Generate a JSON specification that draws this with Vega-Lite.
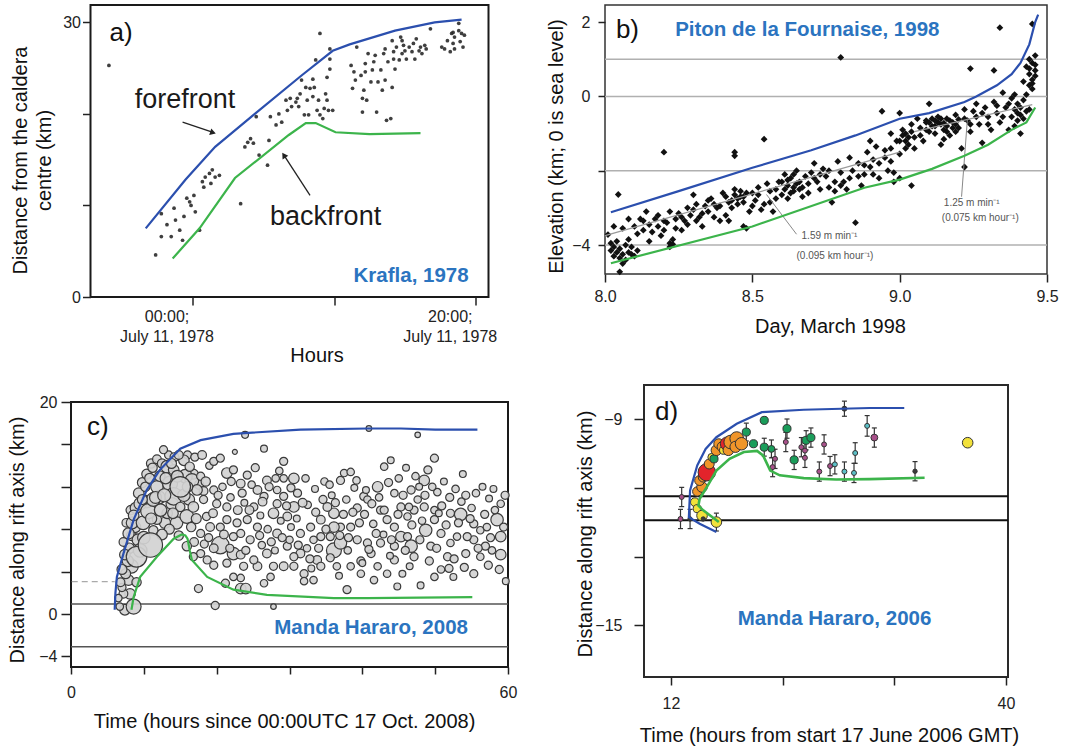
{
"$schema": "https://vega.github.io/schema/vega-lite/v6.json",
"background": "white",
"padding": {"left": 6, "top": 4, "right": 5, "bottom": 5},
"config": {
 "font": "Liberation Sans",
 "view": {"stroke": null},
 "axis": {"labelFont": "Liberation Sans", "titleFont": "Liberation Sans", "labelFontSize": 16, "titleFontSize": 20, "titleFontWeight": "normal", "labelColor": "#222", "titleColor": "#111", "tickColor": "#222", "tickWidth": 1.5, "domain": false, "grid": false, "labelFlush": false, "labelOverlap": false, "labelBound": false}
},
"datasets": {
 "aPts": [{"h":-2.6,"d":4.6},{"h":-2.2,"d":9.1},{"h":-2.2,"d":6.6},{"h":-1.8,"d":7.9},{"h":-1.5,"d":6.6},{"h":-1.3,"d":9.7},{"h":-1.2,"d":8.4},{"h":-0.9,"d":7.3},{"h":-0.7,"d":6.2},{"h":-0.6,"d":8.8},{"h":-0.4,"d":10.8},{"h":-0.2,"d":10.4},{"h":-0.1,"d":10.0},{"h":0.1,"d":11.1},{"h":0.2,"d":9.3},{"h":0.5,"d":7.3},{"h":0.7,"d":12.6},{"h":0.8,"d":12.0},{"h":0.9,"d":13.1},{"h":1.2,"d":13.5},{"h":1.3,"d":12.4},{"h":1.4,"d":13.9},{"h":1.6,"d":13.1},{"h":1.9,"d":13.3},{"h":3.4,"d":10.2},{"h":3.7,"d":16.4},{"h":3.9,"d":16.9},{"h":4.1,"d":17.3},{"h":4.3,"d":16.8},{"h":4.5,"d":19.7},{"h":4.7,"d":15.5},{"h":5.3,"d":14.4},{"h":5.4,"d":17.1},{"h":5.5,"d":19.7},{"h":5.9,"d":18.8},{"h":6.1,"d":20.0},{"h":6.3,"d":19.1},{"h":6.6,"d":21.5},{"h":6.7,"d":20.4},{"h":6.9,"d":21.7},{"h":7.0,"d":20.8},{"h":7.3,"d":21.3},{"h":7.4,"d":21.7},{"h":7.5,"d":20.8},{"h":7.6,"d":22.2},{"h":7.7,"d":23.7},{"h":7.9,"d":19.9},{"h":8.0,"d":22.9},{"h":8.1,"d":21.5},{"h":8.2,"d":19.9},{"h":8.3,"d":22.8},{"h":8.5,"d":21.9},{"h":8.6,"d":22.9},{"h":8.7,"d":25.9},{"h":8.8,"d":20.4},{"h":8.9,"d":21.5},{"h":9.0,"d":28.8},{"h":9.0,"d":19.9},{"h":9.2,"d":19.5},{"h":9.3,"d":20.6},{"h":9.4,"d":22.2},{"h":9.5,"d":21.5},{"h":9.6,"d":20.4},{"h":9.7,"d":24.9},{"h":9.7,"d":27.1},{"h":9.9,"d":20.4},{"h":9.7,"d":26.0},{"h":11.2,"d":25.3},{"h":11.3,"d":22.8},{"h":11.4,"d":24.6},{"h":11.5,"d":23.7},{"h":11.6,"d":27.3},{"h":11.9,"d":24.2},{"h":12.0,"d":20.2},{"h":12.1,"d":22.6},{"h":12.2,"d":25.5},{"h":12.3,"d":21.5},{"h":12.4,"d":26.6},{"h":12.6,"d":23.5},{"h":12.7,"d":24.8},{"h":12.8,"d":25.7},{"h":12.9,"d":26.4},{"h":13.0,"d":20.2},{"h":13.1,"d":23.5},{"h":13.3,"d":24.8},{"h":13.4,"d":22.6},{"h":13.5,"d":26.6},{"h":13.6,"d":27.1},{"h":13.7,"d":19.3},{"h":13.8,"d":25.7},{"h":14.0,"d":19.5},{"h":14.1,"d":22.9},{"h":14.1,"d":28.0},{"h":14.2,"d":26.8},{"h":14.3,"d":24.9},{"h":14.4,"d":27.3},{"h":14.6,"d":25.9},{"h":14.7,"d":28.4},{"h":14.8,"d":26.6},{"h":14.9,"d":27.5},{"h":15.0,"d":26.9},{"h":15.1,"d":26.0},{"h":15.3,"d":27.3},{"h":15.5,"d":26.8},{"h":15.6,"d":27.7},{"h":15.7,"d":26.0},{"h":15.8,"d":28.2},{"h":16.0,"d":26.9},{"h":16.1,"d":27.3},{"h":16.2,"d":26.6},{"h":16.4,"d":27.5},{"h":16.5,"d":27.1},{"h":16.8,"d":29.3},{"h":17.6,"d":27.3},{"h":17.8,"d":27.1},{"h":18.0,"d":28.0},{"h":18.2,"d":26.8},{"h":18.3,"d":28.8},{"h":18.4,"d":27.7},{"h":18.5,"d":28.4},{"h":18.5,"d":27.1},{"h":18.8,"d":29.1},{"h":18.9,"d":27.9},{"h":19.0,"d":28.8},{"h":19.1,"d":27.3},{"h":19.2,"d":28.6},{"h":18.8,"d":29.9},{"h":18.4,"d":28.9},{"h":14.2,"d":26.0},{"h":14.8,"d":28.0},{"h":12.2,"d":24.6},{"h":13.6,"d":23.7},{"h":12.0,"d":21.7},{"h":-5.9,"d":25.3},{"h":9.5,"d":24.0},{"h":8.5,"d":23.8}],
 "aFore": [{"h":-3.3,"d":7.5},{"h":-0.5,"d":12.8},{"h":1.6,"d":16.4},{"h":4.4,"d":20.0},{"h":7.7,"d":24.2},{"h":9.9,"d":26.9},{"h":11.1,"d":27.6},{"h":14.3,"d":29.1},{"h":17.1,"d":30.0},{"h":19.0,"d":30.3}],
 "aBack": [{"h":-1.4,"d":4.2},{"h":0.5,"d":7.5},{"h":3.0,"d":13.0},{"h":6.8,"d":17.7},{"h":8.0,"d":19.0},{"h":8.7,"d":19.0},{"h":10.1,"d":18.0},{"h":12.5,"d":17.8},{"h":16.1,"d":17.9}],
 "aArrow": [{"g":1,"h":-0.7,"d":19.1},{"g":1,"h":1.4,"d":18.0},{"g":2,"h":8.3,"d":11.1},{"g":2,"h":6.5,"d":15.4}],
 "bPts": [{"t":8.01,"e":-3.72},{"t":8.02,"e":-3.95},{"t":8.02,"e":-4.15},{"t":8.03,"e":-4.05},{"t":8.03,"e":-4.3},{"t":8.04,"e":-4.2},{"t":8.04,"e":-3.9},{"t":8.05,"e":-4.35},{"t":8.05,"e":-4.1},{"t":8.06,"e":-4.25},{"t":8.06,"e":-3.55},{"t":8.07,"e":-4.0},{"t":8.07,"e":-4.4},{"t":8.08,"e":-4.2},{"t":8.08,"e":-3.3},{"t":8.09,"e":-4.25},{"t":8.05,"e":-4.72},{"t":8.06,"e":-4.5},{"t":8.03,"e":-3.5},{"t":8.045,"e":-2.64},{"t":8.1,"e":-3.5},{"t":8.12,"e":-3.3},{"t":8.11,"e":-3.7},{"t":8.13,"e":-3.35},{"t":8.14,"e":-3.1},{"t":8.15,"e":-3.45},{"t":8.16,"e":-3.65},{"t":8.17,"e":-3.3},{"t":8.18,"e":-3.5},{"t":8.19,"e":-3.75},{"t":8.2,"e":-3.35},{"t":8.21,"e":-3.4},{"t":8.22,"e":-3.95},{"t":8.23,"e":-3.85},{"t":8.22,"e":-3.1},{"t":8.24,"e":-3.3},{"t":8.25,"e":-3.15},{"t":8.26,"e":-3.6},{"t":8.27,"e":-3.35},{"t":8.28,"e":-3.0},{"t":8.29,"e":-3.2},{"t":8.3,"e":-3.05},{"t":8.31,"e":-2.9},{"t":8.3,"e":-2.65},{"t":8.32,"e":-3.25},{"t":8.33,"e":-3.5},{"t":8.34,"e":-2.95},{"t":8.35,"e":-3.1},{"t":8.36,"e":-2.75},{"t":8.37,"e":-2.9},{"t":8.38,"e":-3.0},{"t":8.39,"e":-3.35},{"t":8.4,"e":-2.6},{"t":8.41,"e":-3.2},{"t":8.42,"e":-2.85},{"t":8.43,"e":-3.0},{"t":8.44,"e":-2.5},{"t":8.45,"e":-2.75},{"t":8.46,"e":-2.55},{"t":8.47,"e":-2.7},{"t":8.48,"e":-2.6},{"t":8.49,"e":-3.1},{"t":8.47,"e":-3.5},{"t":8.48,"e":-3.55},{"t":8.44,"e":-1.5},{"t":8.44,"e":-1.6},{"t":8.2,"e":-1.5},{"t":8.54,"e":-1.15},{"t":8.5,"e":-2.6},{"t":8.51,"e":-2.8},{"t":8.52,"e":-2.45},{"t":8.53,"e":-3.05},{"t":8.55,"e":-2.35},{"t":8.56,"e":-2.85},{"t":8.57,"e":-3.1},{"t":8.58,"e":-2.5},{"t":8.59,"e":-2.3},{"t":8.6,"e":-2.65},{"t":8.61,"e":-2.1},{"t":8.62,"e":-2.4},{"t":8.63,"e":-2.6},{"t":8.63,"e":-2.2},{"t":8.64,"e":-2.45},{"t":8.65,"e":-2.0},{"t":8.66,"e":-2.3},{"t":8.67,"e":-2.7},{"t":8.68,"e":-2.15},{"t":8.69,"e":-2.35},{"t":8.7,"e":-2.05},{"t":8.71,"e":-1.8},{"t":8.72,"e":-2.3},{"t":8.73,"e":-2.5},{"t":8.74,"e":-1.95},{"t":8.75,"e":-2.15},{"t":8.76,"e":-2.45},{"t":8.77,"e":-2.85},{"t":8.78,"e":-2.55},{"t":8.79,"e":-1.75},{"t":8.8,"e":-2.05},{"t":8.8,"e":1.05},{"t":8.81,"e":-2.3},{"t":8.82,"e":-2.5},{"t":8.83,"e":-1.65},{"t":8.84,"e":-2.0},{"t":8.85,"e":-3.4},{"t":8.86,"e":-2.15},{"t":8.87,"e":-2.4},{"t":8.88,"e":-1.85},{"t":8.89,"e":-1.5},{"t":8.9,"e":-1.9},{"t":8.91,"e":-2.1},{"t":8.92,"e":-1.35},{"t":8.93,"e":-1.8},{"t":8.94,"e":-0.4},{"t":8.95,"e":-1.65},{"t":8.96,"e":-2.0},{"t":8.97,"e":-1.4},{"t":8.98,"e":-2.3},{"t":8.99,"e":-1.2},{"t":9.0,"e":-1.55},{"t":9.0,"e":-0.45},{"t":9.01,"e":-0.9},{"t":9.02,"e":-1.0},{"t":9.03,"e":-1.3},{"t":9.04,"e":-0.75},{"t":9.05,"e":-1.1},{"t":9.06,"e":-0.6},{"t":9.07,"e":-0.85},{"t":9.08,"e":-1.2},{"t":9.09,"e":-0.7},{"t":9.1,"e":-0.95},{"t":9.11,"e":-0.6},{"t":9.12,"e":-0.8},{"t":9.12,"e":-1.0},{"t":9.13,"e":-0.55},{"t":9.14,"e":-0.75},{"t":9.15,"e":-0.9},{"t":9.16,"e":-0.6},{"t":9.17,"e":-1.05},{"t":9.18,"e":-0.7},{"t":9.19,"e":-0.5},{"t":9.2,"e":-0.85},{"t":9.21,"e":-1.4},{"t":9.22,"e":-0.35},{"t":9.23,"e":-0.65},{"t":9.24,"e":0.75},{"t":9.24,"e":-0.95},{"t":9.25,"e":-0.4},{"t":9.26,"e":-0.2},{"t":9.27,"e":-0.75},{"t":9.28,"e":-1.25},{"t":9.29,"e":-0.3},{"t":9.3,"e":-0.55},{"t":9.31,"e":-0.9},{"t":9.32,"e":0.7},{"t":9.32,"e":-0.15},{"t":9.33,"e":-0.45},{"t":9.34,"e":1.85},{"t":9.34,"e":-0.7},{"t":9.35,"e":0.1},{"t":9.36,"e":-0.3},{"t":9.37,"e":-0.9},{"t":9.38,"e":-0.05},{"t":9.38,"e":-0.55},{"t":9.39,"e":0.05},{"t":9.4,"e":-0.2},{"t":9.4,"e":-0.65},{"t":9.41,"e":-1.0},{"t":9.42,"e":-0.1},{"t":9.42,"e":0.4},{"t":9.43,"e":0.8},{"t":9.43,"e":0.05},{"t":9.44,"e":1.0},{"t":9.44,"e":0.6},{"t":9.44,"e":0.3},{"t":9.45,"e":0.9},{"t":9.45,"e":0.2},{"t":9.45,"e":1.95},{"t":9.46,"e":0.7},{"t":9.46,"e":0.55},{"t":9.46,"e":1.1},{"t":9.44,"e":-0.35},{"t":9.41,"e":-0.5},{"t":8.22,"e":-4.05},{"t":8.23,"e":-3.98},{"t":9.22,"e":-1.9},{"t":8.98,"e":-2.05},{"t":9.0,"e":-2.2},{"t":9.04,"e":-2.4},{"t":8.97,"e":-1.0},{"t":8.9,"e":-1.2},{"t":9.1,"e":-0.2},{"t":9.09,"e":-0.65},{"t":9.1,"e":-0.7},{"t":9.11,"e":-0.8},{"t":9.13,"e":-0.7},{"t":9.14,"e":-0.6},{"t":9.15,"e":-0.72},{"t":9.16,"e":-0.8},{"t":9.17,"e":-0.65},{"t":9.18,"e":-0.85},{"t":9.19,"e":-0.75},{"t":9.15,"e":-1.15},{"t":9.14,"e":-1.3},{"t":9.2,"e":-0.62},{"t":9.0,"e":-1.2},{"t":9.01,"e":-1.05},{"t":9.02,"e":-1.4},{"t":9.03,"e":-1.1},{"t":9.04,"e":-0.95},{"t":8.61,"e":-2.5},{"t":8.62,"e":-2.25},{"t":8.64,"e":-2.55},{"t":8.65,"e":-2.35},{"t":8.66,"e":-2.5},{"t":8.6,"e":-2.3},{"t":8.43,"e":-2.8},{"t":8.45,"e":-2.9},{"t":8.46,"e":-2.7},{"t":8.44,"e":-2.65},{"t":8.47,"e":-2.85},{"t":9.39,"e":-0.35},{"t":9.4,"e":-0.45},{"t":9.41,"e":-0.3},{"t":9.42,"e":-0.6},{"t":9.43,"e":-0.4},{"t":9.39,"e":-0.8},{"t":8.08,"e":-3.85},{"t":8.09,"e":-4.05},{"t":8.1,"e":-4.3},{"t":8.11,"e":-4.15},{"t":8.13,"e":-3.6},{"t":8.15,"e":-3.9},{"t":8.18,"e":-3.2},{"t":8.2,"e":-3.6},{"t":8.24,"e":-3.55},{"t":8.26,"e":-3.25},{"t":8.28,"e":-3.45},{"t":8.31,"e":-3.35},{"t":8.33,"e":-3.15},{"t":8.35,"e":-2.8},{"t":8.37,"e":-3.25},{"t":8.39,"e":-2.95},{"t":8.41,"e":-2.7},{"t":8.42,"e":-3.35},{"t":8.5,"e":-2.95},{"t":8.52,"e":-2.65},{"t":8.54,"e":-2.9},{"t":8.56,"e":-2.55},{"t":8.58,"e":-2.75},{"t":8.62,"e":-2.75},{"t":8.64,"e":-2.1},{"t":8.67,"e":-2.45},{"t":8.69,"e":-2.6},{"t":8.71,"e":-2.2},{"t":8.73,"e":-2.1},{"t":8.76,"e":-2.0},{"t":8.78,"e":-2.3},{"t":8.8,"e":-2.4},{"t":8.83,"e":-2.2},{"t":8.86,"e":-1.8},{"t":8.88,"e":-2.1},{"t":8.91,"e":-1.7},{"t":8.93,"e":-2.2},{"t":8.95,"e":-1.45},{"t":8.97,"e":-1.75},{"t":9.02,"e":-1.2},{"t":9.05,"e":-1.4},{"t":9.07,"e":-1.05},{"t":9.09,"e":-0.9},{"t":9.12,"e":-0.65},{"t":9.16,"e":-0.95},{"t":9.19,"e":-0.95},{"t":9.22,"e":-0.6},{"t":9.24,"e":-0.75},{"t":9.26,"e":-0.55},{"t":9.28,"e":-0.45},{"t":9.3,"e":-0.75},{"t":9.33,"e":-0.25},{"t":9.35,"e":-0.55},{"t":9.37,"e":-0.2},{"t":9.45,"e":0.45},{"t":9.46,"e":0.85},{"t":9.44,"e":0.75},{"t":9.45,"e":0.35}],
 "bUp": [{"t":8.02,"e":-3.12},{"t":8.25,"e":-2.55},{"t":8.5,"e":-1.92},{"t":8.7,"e":-1.45},{"t":8.85,"e":-1.05},{"t":9.0,"e":-0.6},{"t":9.1,"e":-0.45},{"t":9.22,"e":-0.15},{"t":9.26,"e":0.0},{"t":9.33,"e":0.3},{"t":9.38,"e":0.6},{"t":9.41,"e":0.9},{"t":9.44,"e":1.4},{"t":9.46,"e":2.0},{"t":9.47,"e":2.2}],
 "bLow": [{"t":8.02,"e":-4.49},{"t":8.5,"e":-3.5},{"t":8.88,"e":-2.46},{"t":9.0,"e":-2.24},{"t":9.11,"e":-1.95},{"t":9.22,"e":-1.6},{"t":9.3,"e":-1.3},{"t":9.38,"e":-0.9},{"t":9.43,"e":-0.7},{"t":9.46,"e":-0.3}],
 "bFit": [{"g":1,"t":8.0,"e":-3.75},{"g":1,"t":9.0,"e":-1.5},{"g":2,"t":9.05,"e":-0.95},{"g":2,"t":9.45,"e":-0.22}],
 "bLead": [{"g":1,"t":8.65,"e":-3.71},{"g":1,"t":8.548,"e":-2.64},{"g":2,"t":9.21,"e":-2.7},{"g":2,"t":9.23,"e":-0.6}],
 "cPts": [{"h":8.3,"d":4.5,"m":2.2},{"h":7.9,"d":3.2,"m":1.7},{"h":7.4,"d":0.4,"m":1.7},{"h":6.7,"d":0.7,"m":1.2},{"h":8.1,"d":1.9,"m":1.7},{"h":7.2,"d":1.9,"m":1.4},{"h":7.0,"d":2.5,"m":1.3},{"h":7.5,"d":3.8,"m":1.6},{"h":7.8,"d":5.0,"m":1.8},{"h":8.0,"d":6.2,"m":1.7},{"h":8.3,"d":7.4,"m":1.6},{"h":8.8,"d":8.2,"m":1.8},{"h":9.2,"d":7.0,"m":1.9},{"h":7.2,"d":6.8,"m":1.4},{"h":7.6,"d":8.6,"m":1.4},{"h":8.2,"d":9.8,"m":1.5},{"h":6.5,"d":1.5,"m":1.2},{"h":6.8,"d":3.0,"m":1.4},{"h":7.0,"d":4.2,"m":1.6},{"h":7.4,"d":5.6,"m":1.7},{"h":7.9,"d":7.6,"m":1.8},{"h":8.4,"d":8.6,"m":1.9},{"h":8.9,"d":10.0,"m":1.8},{"h":9.3,"d":11.4,"m":1.7},{"h":9.8,"d":12.4,"m":1.6},{"h":10.4,"d":13.2,"m":1.6},{"h":11.0,"d":14.2,"m":1.5},{"h":11.8,"d":14.6,"m":1.4},{"h":12.5,"d":14.2,"m":1.5},{"h":13.4,"d":15.0,"m":1.3},{"h":14.2,"d":14.8,"m":1.4},{"h":16.0,"d":15.0,"m":1.3},{"h":16.8,"d":13.2,"m":1.6},{"h":17.6,"d":12.2,"m":1.5},{"h":18.2,"d":11.6,"m":1.4},{"h":12.0,"d":11.0,"m":2.2},{"h":10.4,"d":10.6,"m":2.0},{"h":13.9,"d":10.4,"m":2.0},{"h":16.2,"d":10.8,"m":1.8},{"h":12.9,"d":8.6,"m":1.8},{"h":14.8,"d":7.4,"m":1.5},{"h":16.9,"d":6.8,"m":1.4},{"h":18.3,"d":6.6,"m":1.3},{"h":18.9,"d":7.2,"m":1.3},{"h":8.6,"d":9.3,"m":1.7},{"h":9.5,"d":10.4,"m":2.0},{"h":9.9,"d":8.6,"m":2.2},{"h":10.6,"d":9.7,"m":2.4},{"h":11.3,"d":10.8,"m":2.2},{"h":11.8,"d":12.0,"m":2.0},{"h":12.2,"d":13.0,"m":1.7},{"h":12.7,"d":15.5,"m":1.3},{"h":13.2,"d":13.9,"m":2.0},{"h":13.6,"d":12.3,"m":2.4},{"h":14.1,"d":11.1,"m":2.8},{"h":15.7,"d":13.0,"m":2.2},{"h":15.5,"d":14.5,"m":1.7},{"h":16.6,"d":12.6,"m":2.2},{"h":17.3,"d":11.7,"m":1.7},{"h":17.8,"d":13.0,"m":1.3},{"h":14.1,"d":13.6,"m":1.7},{"h":14.5,"d":8.6,"m":2.0},{"h":15.9,"d":9.2,"m":2.2},{"h":16.8,"d":10.1,"m":1.7},{"h":13.2,"d":9.5,"m":1.7},{"h":11.8,"d":8.9,"m":1.5},{"h":15.0,"d":10.1,"m":1.5},{"h":11.3,"d":7.9,"m":1.5},{"h":15.9,"d":6.4,"m":1.5},{"h":17.8,"d":7.6,"m":1.3},{"h":9.8,"d":10.8,"m":1.6},{"h":10.2,"d":12.0,"m":1.5},{"h":10.8,"d":12.8,"m":1.6},{"h":11.2,"d":13.8,"m":1.5},{"h":11.6,"d":11.0,"m":1.9},{"h":12.3,"d":9.8,"m":2.0},{"h":12.8,"d":11.2,"m":2.1},{"h":13.0,"d":12.8,"m":1.8},{"h":13.8,"d":14.2,"m":1.6},{"h":14.6,"d":13.0,"m":1.9},{"h":14.8,"d":15.0,"m":1.4},{"h":15.5,"d":11.2,"m":2.0},{"h":16.0,"d":12.0,"m":1.7},{"h":16.3,"d":13.9,"m":1.5},{"h":17.0,"d":14.8,"m":1.3},{"h":17.2,"d":9.0,"m":1.6},{"h":16.5,"d":8.2,"m":1.5},{"h":14.0,"d":9.5,"m":1.7},{"h":13.5,"d":8.0,"m":1.6},{"h":12.5,"d":7.5,"m":1.7},{"h":11.0,"d":9.0,"m":1.8},{"h":10.0,"d":7.2,"m":2.0},{"h":9.5,"d":6.0,"m":2.2},{"h":9.0,"d":3.0,"m":1.5},{"h":18.5,"d":12.5,"m":1.5},{"h":19.0,"d":14.0,"m":1.2},{"h":18.0,"d":15.0,"m":1.4},{"h":15.0,"d":12.0,"m":3.3},{"h":9.0,"d":5.4,"m":3.3},{"h":10.9,"d":6.5,"m":3.9},{"h":8.6,"d":0.7,"m":2.4},{"h":19.1,"d":8.2,"m":1.4},{"h":20.5,"d":6.5,"m":2.8},{"h":19.6,"d":6.2,"m":1.4},{"h":22.3,"d":5.7,"m":2.0},{"h":23.3,"d":5.6,"m":1.4},{"h":21.4,"d":13.3,"m":1.7},{"h":19.6,"d":14.4,"m":1.3},{"h":20.5,"d":14.7,"m":1.3},{"h":22.3,"d":13.6,"m":1.3},{"h":24.2,"d":13.1,"m":1.3},{"h":23.9,"d":16.9,"m":1.1},{"h":22.5,"d":15.3,"m":0.8},{"h":26.5,"d":15.6,"m":1.1},{"h":23.3,"d":12.3,"m":1.4},{"h":25.6,"d":11.7,"m":1.4},{"h":26.9,"d":12.6,"m":1.4},{"h":27.8,"d":9.5,"m":1.7},{"h":29.2,"d":14.4,"m":1.3},{"h":30.6,"d":12.8,"m":1.7},{"h":28.1,"d":12.8,"m":1.2},{"h":29.2,"d":12.8,"m":1.2},{"h":29.7,"d":9.2,"m":1.4},{"h":30.6,"d":10.1,"m":1.7},{"h":28.3,"d":7.6,"m":1.4},{"h":26.9,"d":5.7,"m":1.4},{"h":29.2,"d":4.5,"m":1.4},{"h":25.6,"d":4.5,"m":1.4},{"h":23.3,"d":2.4,"m":1.7},{"h":24.0,"d":2.4,"m":1.7},{"h":21.2,"d":2.9,"m":1.3},{"h":17.5,"d":2.4,"m":1.3},{"h":19.8,"d":0.8,"m":1.3},{"h":27.8,"d":0.7,"m":0.9},{"h":26.5,"d":2.9,"m":1.2},{"h":23.3,"d":3.4,"m":1.2},{"h":32.0,"d":3.8,"m":1.3},{"h":33.3,"d":3.2,"m":1.2},{"h":31.5,"d":5.7,"m":1.4},{"h":33.8,"d":5.1,"m":1.4},{"h":36.1,"d":6.0,"m":2.4},{"h":37.0,"d":6.7,"m":2.0},{"h":37.9,"d":2.3,"m":1.3},{"h":36.1,"d":9.5,"m":1.7},{"h":34.3,"d":8.9,"m":1.4},{"h":35.2,"d":10.1,"m":1.4},{"h":37.0,"d":12.6,"m":1.3},{"h":37.5,"d":13.3,"m":1.2},{"h":38.4,"d":13.4,"m":1.2},{"h":39.3,"d":10.0,"m":1.3},{"h":40.2,"d":11.1,"m":1.3},{"h":40.7,"d":10.8,"m":1.2},{"h":40.5,"d":11.7,"m":1.1},{"h":40.9,"d":17.5,"m":0.9},{"h":42.1,"d":12.0,"m":1.7},{"h":42.5,"d":9.8,"m":1.3},{"h":43.4,"d":8.9,"m":1.3},{"h":43.0,"d":13.9,"m":1.2},{"h":43.9,"d":14.5,"m":1.1},{"h":44.4,"d":8.2,"m":1.3},{"h":45.3,"d":7.3,"m":1.7},{"h":46.2,"d":7.3,"m":1.3},{"h":46.7,"d":6.4,"m":2.0},{"h":47.6,"d":16.9,"m":0.9},{"h":48.5,"d":12.6,"m":1.7},{"h":49.0,"d":13.6,"m":1.3},{"h":49.9,"d":14.7,"m":1.3},{"h":48.7,"d":7.9,"m":2.0},{"h":49.4,"d":6.4,"m":1.3},{"h":49.9,"d":8.9,"m":1.3},{"h":47.1,"d":5.4,"m":1.3},{"h":48.0,"d":2.7,"m":1.1},{"h":44.4,"d":5.1,"m":1.3},{"h":43.4,"d":3.8,"m":1.2},{"h":41.2,"d":5.7,"m":1.3},{"h":39.8,"d":5.0,"m":1.3},{"h":42.1,"d":4.5,"m":1.2},{"h":38.4,"d":4.5,"m":1.2},{"h":50.8,"d":7.6,"m":1.3},{"h":51.7,"d":5.4,"m":1.3},{"h":51.9,"d":4.3,"m":1.3},{"h":50.8,"d":4.2,"m":1.2},{"h":52.1,"d":9.5,"m":1.3},{"h":53.5,"d":9.4,"m":2.0},{"h":54.2,"d":11.2,"m":1.3},{"h":55.3,"d":7.0,"m":1.3},{"h":55.3,"d":3.8,"m":1.3},{"h":56.2,"d":5.4,"m":1.2},{"h":57.4,"d":10.9,"m":1.1},{"h":58.5,"d":8.9,"m":2.0},{"h":59.0,"d":10.4,"m":1.2},{"h":59.0,"d":7.3,"m":1.7},{"h":59.0,"d":5.6,"m":1.7},{"h":59.7,"d":3.1,"m":1.1},{"h":56.2,"d":7.9,"m":1.2},{"h":57.1,"d":8.2,"m":1.2},{"h":56.9,"d":6.4,"m":1.3},{"h":54.2,"d":5.7,"m":1.3},{"h":53.0,"d":7.3,"m":1.2},{"h":48.5,"d":10.1,"m":1.3},{"h":49.9,"d":9.8,"m":1.2},{"h":47.1,"d":9.8,"m":1.3},{"h":46.2,"d":9.2,"m":1.2},{"h":45.3,"d":10.1,"m":1.3},{"h":44.4,"d":11.4,"m":1.2},{"h":47.6,"d":10.8,"m":1.2},{"h":46.4,"d":10.1,"m":1.2},{"h":50.3,"d":11.5,"m":1.2},{"h":46.7,"d":11.7,"m":1.3},{"h":39.3,"d":7.0,"m":1.3},{"h":38.4,"d":8.2,"m":1.3},{"h":37.0,"d":8.2,"m":1.3},{"h":35.6,"d":7.3,"m":1.3},{"h":34.3,"d":7.3,"m":1.3},{"h":32.9,"d":8.2,"m":1.3},{"h":33.3,"d":7.0,"m":1.2},{"h":31.5,"d":7.6,"m":1.3},{"h":30.6,"d":5.4,"m":1.3},{"h":29.7,"d":6.4,"m":1.3},{"h":34.3,"d":4.5,"m":1.3},{"h":35.6,"d":5.3,"m":1.3},{"h":36.5,"d":4.5,"m":1.2},{"h":32.4,"d":6.2,"m":1.2},{"h":25.6,"d":8.2,"m":1.3},{"h":24.2,"d":8.9,"m":1.3},{"h":22.8,"d":8.6,"m":1.3},{"h":21.4,"d":8.9,"m":1.3},{"h":21.4,"d":10.1,"m":1.3},{"h":20.0,"d":10.4,"m":1.3},{"h":19.6,"d":11.7,"m":1.3},{"h":18.2,"d":10.8,"m":1.3},{"h":18.6,"d":9.2,"m":1.3},{"h":25.1,"d":10.1,"m":1.3},{"h":26.5,"d":11.1,"m":1.3},{"h":28.3,"d":10.4,"m":1.3},{"h":29.2,"d":11.1,"m":1.3},{"h":31.1,"d":11.4,"m":1.3},{"h":28.3,"d":11.7,"m":1.2},{"h":24.6,"d":7.0,"m":1.3},{"h":22.3,"d":7.3,"m":1.3},{"h":23.3,"d":7.6,"m":1.3},{"h":20.5,"d":8.2,"m":1.3},{"h":25.1,"d":5.1,"m":1.3},{"h":23.7,"d":4.5,"m":1.3},{"h":22.3,"d":3.5,"m":1.2},{"h":19.6,"d":4.6,"m":1.3},{"h":18.7,"d":5.1,"m":1.3},{"h":17.8,"d":5.7,"m":1.3},{"h":16.8,"d":5.4,"m":1.3},{"h":21.4,"d":4.8,"m":1.3},{"h":27.8,"d":4.5,"m":1.3},{"h":27.4,"d":3.5,"m":1.2},{"h":30.6,"d":4.5,"m":1.3},{"h":32.0,"d":3.1,"m":1.2},{"h":44.8,"d":2.6,"m":1.1},{"h":41.6,"d":3.2,"m":1.2},{"h":39.8,"d":3.8,"m":1.2},{"h":49.9,"d":3.5,"m":1.2},{"h":55.3,"d":8.5,"m":1.3},{"h":54.4,"d":7.3,"m":1.3},{"h":52.1,"d":6.7,"m":1.2},{"h":44.4,"d":6.4,"m":1.3},{"h":42.5,"d":6.7,"m":1.3},{"h":40.7,"d":6.7,"m":1.3},{"h":36.1,"d":8.2,"m":1.7},{"h":20.8,"d":12.0,"m":1.2},{"h":21.9,"d":11.0,"m":1.2},{"h":23.8,"d":10.5,"m":1.1},{"h":24.8,"d":12.2,"m":1.2},{"h":26.0,"d":9.3,"m":1.1},{"h":27.0,"d":8.0,"m":1.2},{"h":28.8,"d":8.8,"m":1.1},{"h":30.0,"d":7.0,"m":1.2},{"h":31.0,"d":9.0,"m":1.1},{"h":32.5,"d":10.3,"m":1.2},{"h":33.5,"d":11.8,"m":1.1},{"h":34.8,"d":12.5,"m":1.2},{"h":35.8,"d":11.2,"m":1.1},{"h":37.8,"d":10.8,"m":1.2},{"h":38.9,"d":11.9,"m":1.1},{"h":41.5,"d":8.5,"m":1.2},{"h":42.9,"d":7.5,"m":1.1},{"h":45.0,"d":12.8,"m":1.2},{"h":46.0,"d":13.8,"m":1.1},{"h":47.8,"d":12.0,"m":1.1},{"h":48.2,"d":8.8,"m":1.2},{"h":50.5,"d":9.5,"m":1.1},{"h":51.2,"d":12.5,"m":1.1},{"h":52.8,"d":11.8,"m":1.2},{"h":53.8,"d":13.2,"m":1.1},{"h":55.0,"d":10.0,"m":1.2},{"h":56.5,"d":12.0,"m":1.1},{"h":57.8,"d":6.0,"m":1.2},{"h":58.0,"d":11.8,"m":1.1},{"h":52.5,"d":3.5,"m":1.1},{"h":46.5,"d":4.5,"m":1.1},{"h":45.5,"d":3.8,"m":1.1},{"h":40.0,"d":4.8,"m":1.1},{"h":33.0,"d":4.3,"m":1.1},{"h":26.2,"d":6.5,"m":1.2},{"h":28.0,"d":6.0,"m":1.1},{"h":30.2,"d":8.2,"m":1.1},{"h":36.8,"d":3.6,"m":1.1},{"h":38.0,"d":6.0,"m":1.2},{"h":43.8,"d":5.5,"m":1.1},{"h":19.5,"d":9.5,"m":1.4},{"h":20.2,"d":11.2,"m":1.3},{"h":21.0,"d":7.5,"m":1.4},{"h":21.8,"d":6.2,"m":1.3},{"h":22.0,"d":12.5,"m":1.3},{"h":22.9,"d":9.8,"m":1.4},{"h":23.5,"d":11.4,"m":1.3},{"h":24.0,"d":6.0,"m":1.3},{"h":24.5,"d":9.8,"m":1.4},{"h":25.3,"d":13.8,"m":1.3},{"h":25.9,"d":7.4,"m":1.3},{"h":26.3,"d":10.6,"m":1.4},{"h":27.2,"d":12.0,"m":1.3},{"h":27.5,"d":6.8,"m":1.3},{"h":28.6,"d":13.5,"m":1.2},{"h":29.0,"d":7.2,"m":1.3},{"h":29.6,"d":10.2,"m":1.3},{"h":30.2,"d":11.9,"m":1.3},{"h":31.2,"d":6.5,"m":1.3},{"h":31.8,"d":10.5,"m":1.4},{"h":32.2,"d":12.8,"m":1.2},{"h":32.8,"d":5.2,"m":1.3},{"h":33.6,"d":9.6,"m":1.3},{"h":34.0,"d":6.2,"m":1.3},{"h":34.6,"d":10.8,"m":1.3},{"h":35.0,"d":8.0,"m":1.3},{"h":35.5,"d":12.2,"m":1.2},{"h":36.3,"d":10.5,"m":1.3},{"h":36.9,"d":7.4,"m":1.3},{"h":37.4,"d":9.4,"m":1.3},{"h":38.1,"d":7.2,"m":1.3},{"h":38.7,"d":9.6,"m":1.3},{"h":39.2,"d":12.6,"m":1.2},{"h":39.6,"d":8.6,"m":1.3},{"h":40.3,"d":9.4,"m":1.3},{"h":40.9,"d":6.1,"m":1.3},{"h":41.3,"d":10.4,"m":1.3},{"h":41.9,"d":7.6,"m":1.3},{"h":42.3,"d":11.0,"m":1.2},{"h":43.0,"d":9.8,"m":1.3},{"h":43.6,"d":12.4,"m":1.3},{"h":44.0,"d":7.0,"m":1.3},{"h":44.9,"d":9.4,"m":1.3},{"h":45.6,"d":11.2,"m":1.3},{"h":45.9,"d":6.0,"m":1.3},{"h":46.8,"d":8.4,"m":1.3},{"h":47.3,"d":13.0,"m":1.2},{"h":47.9,"d":7.0,"m":1.3},{"h":48.6,"d":11.2,"m":1.3},{"h":49.2,"d":5.0,"m":1.3},{"h":49.6,"d":12.0,"m":1.2},{"h":50.2,"d":6.2,"m":1.3},{"h":50.9,"d":10.2,"m":1.3},{"h":51.5,"d":8.4,"m":1.3},{"h":52.0,"d":11.0,"m":1.3},{"h":52.6,"d":5.2,"m":1.3},{"h":53.2,"d":8.6,"m":1.3},{"h":53.6,"d":10.6,"m":1.2},{"h":54.0,"d":4.4,"m":1.3},{"h":54.8,"d":9.0,"m":1.3},{"h":55.6,"d":11.4,"m":1.2},{"h":55.9,"d":6.2,"m":1.3},{"h":56.8,"d":9.4,"m":1.3},{"h":57.3,"d":4.6,"m":1.3},{"h":57.6,"d":7.2,"m":1.3},{"h":58.2,"d":9.8,"m":1.2},{"h":58.8,"d":4.2,"m":1.3},{"h":59.4,"d":8.2,"m":1.3},{"h":59.6,"d":11.2,"m":1.3}],
 "cUp": [{"h":6.0,"d":0.4},{"h":6.1,"d":2.0},{"h":6.3,"d":3.5},{"h":7.2,"d":5.7},{"h":8.6,"d":8.9},{"h":10.4,"d":11.7},{"h":12.2,"d":13.6},{"h":15.0,"d":15.6},{"h":17.8,"d":16.4},{"h":22.3,"d":17.0},{"h":31.5,"d":17.4},{"h":40.7,"d":17.5},{"h":45.3,"d":17.5},{"h":50.0,"d":17.4},{"h":55.8,"d":17.4}],
 "cLow": [{"h":8.3,"d":0.4},{"h":8.6,"d":1.6},{"h":9.5,"d":3.5},{"h":11.8,"d":5.4},{"h":14.1,"d":7.1},{"h":15.2,"d":7.5},{"h":15.7,"d":7.4},{"h":16.0,"d":7.1},{"h":16.3,"d":6.0},{"h":16.6,"d":5.1},{"h":18.7,"d":3.5},{"h":22.3,"d":2.3},{"h":26.9,"d":1.8},{"h":36.1,"d":1.5},{"h":40.7,"d":1.5},{"h":55.1,"d":1.6}],
 "dPts": [{"h":12.9,"d":-11.26,"g":"E","m":0.8},{"h":12.8,"d":-11.9,"g":"E","m":0.8},{"h":13.6,"d":-11.9,"g":"G","m":0.7},{"h":14.0,"d":-11.41,"g":"C","m":1.4},{"h":14.2,"d":-11.6,"g":"C","m":1.3},{"h":14.6,"d":-11.8,"g":"C","m":1.7},{"h":15.8,"d":-11.99,"g":"C","m":1.7},{"h":14.7,"d":-11.9,"g":"G","m":0.7},{"h":14.2,"d":-11.1,"g":"B","m":1.5},{"h":14.6,"d":-10.97,"g":"B","m":1.7},{"h":14.4,"d":-10.78,"g":"B","m":1.6},{"h":14.7,"d":-10.68,"g":"B","m":1.6},{"h":15.0,"d":-10.54,"g":"A","m":2.8},{"h":15.2,"d":-10.3,"g":"B","m":1.6},{"h":15.4,"d":-10.1,"g":"C","m":1.2},{"h":15.6,"d":-10.15,"g":"D","m":1.3},{"h":15.8,"d":-9.9,"g":"B","m":1.7},{"h":16.0,"d":-9.71,"g":"B","m":1.6},{"h":16.3,"d":-9.8,"g":"B","m":1.7},{"h":16.4,"d":-9.9,"g":"C","m":1.3},{"h":16.7,"d":-9.71,"g":"A","m":2.2},{"h":16.8,"d":-9.9,"g":"B","m":1.7},{"h":17.0,"d":-9.66,"g":"B","m":2.2},{"h":17.5,"d":-9.56,"g":"B","m":2.2},{"h":17.4,"d":-9.8,"g":"B","m":1.8},{"h":17.9,"d":-9.71,"g":"B","m":2.0},{"h":18.3,"d":-9.37,"g":"D","m":1.3},{"h":18.9,"d":-9.71,"g":"D","m":1.3},{"h":19.8,"d":-9.03,"g":"D","m":1.3},{"h":19.8,"d":-9.81,"g":"D","m":1.3},{"h":20.4,"d":-9.86,"g":"D","m":1.1},{"h":20.7,"d":-10.15,"g":"E","m":0.8},{"h":20.5,"d":-10.39,"g":"E","m":0.8},{"h":21.7,"d":-9.27,"g":"D","m":1.3},{"h":21.6,"d":-9.66,"g":"E","m":0.8},{"h":22.3,"d":-10.18,"g":"D","m":1.3},{"h":22.9,"d":-9.81,"g":"E","m":0.8},{"h":23.2,"d":-9.91,"g":"E","m":0.8},{"h":23.2,"d":-10.12,"g":"E","m":0.8},{"h":23.3,"d":-9.61,"g":"D","m":1.3},{"h":23.7,"d":-9.53,"g":"D","m":1.3},{"h":24.4,"d":-10.52,"g":"E","m":0.8},{"h":24.8,"d":-9.73,"g":"E","m":0.8},{"h":25.3,"d":-10.36,"g":"E","m":0.8},{"h":25.7,"d":-10.31,"g":"F","m":0.8},{"h":26.5,"d":-8.69,"g":"G","m":0.8},{"h":26.5,"d":-10.52,"g":"F","m":0.8},{"h":27.3,"d":-10.56,"g":"F","m":0.8},{"h":27.4,"d":-9.98,"g":"F","m":0.8},{"h":28.4,"d":-9.19,"g":"F","m":0.8},{"h":29.0,"d":-9.53,"g":"E","m":1.1},{"h":32.4,"d":-10.51,"g":"G","m":0.7},{"h":36.8,"d":-9.68,"g":"C","m":1.7}],
 "dErr": [{"h":12.9,"lo":-11.54,"hi":-10.98},{"h":12.8,"lo":-12.18,"hi":-11.62},{"h":13.6,"lo":-12.18,"hi":-11.62},{"h":15.8,"lo":-12.25,"hi":-11.73},{"h":18.3,"lo":-9.63,"hi":-9.11},{"h":19.8,"lo":-10.07,"hi":-9.55},{"h":20.4,"lo":-10.12,"hi":-9.6},{"h":20.7,"lo":-10.43,"hi":-9.87},{"h":20.5,"lo":-10.67,"hi":-10.11},{"h":21.7,"lo":-9.55,"hi":-8.99},{"h":21.6,"lo":-9.94,"hi":-9.38},{"h":22.3,"lo":-10.46,"hi":-9.9},{"h":22.9,"lo":-10.09,"hi":-9.53},{"h":23.2,"lo":-10.4,"hi":-9.7},{"h":23.3,"lo":-9.89,"hi":-9.33},{"h":23.7,"lo":-9.81,"hi":-9.25},{"h":24.4,"lo":-10.8,"hi":-10.24},{"h":24.8,"lo":-10.01,"hi":-9.45},{"h":25.3,"lo":-10.64,"hi":-10.08},{"h":25.7,"lo":-10.59,"hi":-10.03},{"h":26.5,"lo":-8.91,"hi":-8.47},{"h":26.5,"lo":-10.8,"hi":-10.24},{"h":27.3,"lo":-10.84,"hi":-10.28},{"h":27.4,"lo":-10.28,"hi":-9.68},{"h":28.4,"lo":-9.49,"hi":-8.89},{"h":29.0,"lo":-9.81,"hi":-9.25},{"h":32.4,"lo":-10.79,"hi":-10.23}],
 "dUp": [{"i":1,"h":15.8,"d":-12.28},{"i":2,"h":14.4,"d":-12.04},{"i":3,"h":13.5,"d":-11.85},{"i":4,"h":13.6,"d":-11.07},{"i":5,"h":14.2,"d":-10.34},{"i":6,"h":14.9,"d":-9.86},{"i":7,"h":15.8,"d":-9.52},{"i":8,"h":17.5,"d":-9.13},{"i":9,"h":19.6,"d":-8.79},{"i":10,"h":23.1,"d":-8.72},{"i":11,"h":28.6,"d":-8.67},{"i":12,"h":31.5,"d":-8.67}],
 "dLow": [{"i":1,"h":16.0,"d":-11.99},{"i":2,"h":14.7,"d":-11.65},{"i":3,"h":14.3,"d":-11.51},{"i":4,"h":14.4,"d":-11.31},{"i":5,"h":15.0,"d":-10.97},{"i":6,"h":15.8,"d":-10.49},{"i":7,"h":16.9,"d":-10.15},{"i":8,"h":18.1,"d":-9.95},{"i":9,"h":19.2,"d":-9.92},{"i":10,"h":19.7,"d":-10.05},{"i":11,"h":20.3,"d":-10.49},{"i":12,"h":21.1,"d":-10.63},{"i":13,"h":23.1,"d":-10.71},{"i":14,"h":25.8,"d":-10.75},{"i":15,"h":28.6,"d":-10.74},{"i":16,"h":33.2,"d":-10.7}]
},
"spacing": 27,
"hconcat": [
 {"vconcat": [
  {"width": 398, "height": 292,
   "view": {"stroke": "#1a1a1a", "strokeWidth": 2},
   "layer": [
    {"data": {"name": "aPts"}, "mark": {"type": "circle", "size": 14, "color": "#2a2a2a", "opacity": 0.9},
     "encoding": {
      "x": {"field": "h", "type": "quantitative", "scale": {"domain": [-7.2, 20.9], "nice": false, "zero": false},
        "axis": {"title": "Hours", "values": [0, 10, 20], "labelExpr": "datum.value == 0 ? ['00:00;', 'July 11, 1978'] : datum.value == 20 ? ['20:00;', 'July 11, 1978'] : ''", "labelOffset": -26, "tickSize": 8, "labelPadding": 3, "labelLineHeight": 20, "titleX": 226, "titleY": 48.5, "titleBaseline": "top", "titleAlign": "center"}},
      "y": {"field": "d", "type": "quantitative", "scale": {"domain": [0, 31.9], "nice": false, "zero": false},
        "axis": {"title": ["Distance from the caldera", "centre (km)"], "values": [0, 10, 20, 30], "labelExpr": "datum.value == 0 || datum.value == 30 ? datum.label : ''", "tickSize": 8, "labelPadding": 2, "titleX": -80.5, "titleY": 155, "titleAngle": 270, "titleBaseline": "top", "titleAlign": "center", "titleLineHeight": 24}}
     }},
    {"data": {"name": "aFore"}, "mark": {"type": "line", "color": "#2b4fae", "strokeWidth": 2.2},
     "encoding": {"x": {"field": "h", "type": "quantitative"}, "y": {"field": "d", "type": "quantitative"}}},
    {"data": {"name": "aBack"}, "mark": {"type": "line", "color": "#3cb44b", "strokeWidth": 2.2},
     "encoding": {"x": {"field": "h", "type": "quantitative"}, "y": {"field": "d", "type": "quantitative"}}},
    {"data": {"name": "aArrow"}, "mark": {"type": "line", "color": "#222", "strokeWidth": 1.3},
     "encoding": {"x": {"field": "h", "type": "quantitative"}, "y": {"field": "d", "type": "quantitative"}, "detail": {"field": "g"}}},
    {"data": {"values": [{"h": 1.45, "d": 17.95}]}, "mark": {"type": "point", "shape": "triangle-right", "angle": 18, "filled": true, "color": "#222", "opacity": 1, "size": 45},
     "encoding": {"x": {"field": "h", "type": "quantitative"}, "y": {"field": "d", "type": "quantitative"}}},
    {"data": {"values": [{"h": 6.45, "d": 15.5}]}, "mark": {"type": "point", "shape": "triangle-right", "angle": 237, "filled": true, "color": "#222", "opacity": 1, "size": 45},
     "encoding": {"x": {"field": "h", "type": "quantitative"}, "y": {"field": "d", "type": "quantitative"}}},
    {"data": {"values": [{"h": -0.53, "d": 21.5, "t": "forefront"}, {"h": 9.4, "d": 8.7, "t": "backfront"}]}, "mark": {"type": "text", "fontSize": 27, "color": "#1a1a1a", "align": "center", "baseline": "middle"},
     "encoding": {"x": {"field": "h", "type": "quantitative"}, "y": {"field": "d", "type": "quantitative"}, "text": {"field": "t"}}},
    {"data": {"values": [{"h": -5.85, "d": 28.8, "t": "a)"}]}, "mark": {"type": "text", "fontSize": 26, "color": "#111", "align": "left", "baseline": "middle"},
     "encoding": {"x": {"field": "h", "type": "quantitative"}, "y": {"field": "d", "type": "quantitative"}, "text": {"field": "t"}}},
    {"data": {"values": [{"h": 19.5, "d": 2.3, "t": "Krafla, 1978"}]}, "mark": {"type": "text", "fontSize": 20.5, "fontWeight": "bold", "color": "#2b74c0", "align": "right", "baseline": "middle"},
     "encoding": {"x": {"field": "h", "type": "quantitative"}, "y": {"field": "d", "type": "quantitative"}, "text": {"field": "t"}}}
   ]},
  {"width": 437, "height": 265,
   "view": {"stroke": "#1a1a1a", "strokeWidth": 2},
   "layer": [
    {"data": {"values": [{"v": 0.94}, {"v": -3.1}]}, "mark": {"type": "rule", "color": "#555", "strokeWidth": 1.5},
     "encoding": {"y": {"field": "v", "type": "quantitative"}}},
    {"data": {"values": [{"h": 0.1, "d": 3.05}, {"h": 6.0, "d": 3.05}]}, "mark": {"type": "line", "color": "#aaa", "strokeWidth": 1.2, "strokeDash": [6, 4]},
     "encoding": {"x": {"field": "h", "type": "quantitative"}, "y": {"field": "d", "type": "quantitative"}}},
    {"data": {"name": "cPts"}, "mark": {"type": "circle", "fill": "#d2d2d2", "stroke": "#3a3a3a", "strokeWidth": 1.2, "fillOpacity": 0.92, "opacity": 1},
     "encoding": {
      "x": {"field": "h", "type": "quantitative", "scale": {"domain": [0, 60], "nice": false, "zero": false},
        "axis": {"title": "Time (hours since 00:00UTC 17 Oct. 2008)", "values": [0, 10, 20, 30, 40, 50, 60], "labelExpr": "datum.value == 0 || datum.value == 60 ? datum.label : ''", "tickSize": 7, "labelPadding": 10, "titleX": 213, "titleY": 44.5, "titleBaseline": "top", "titleAlign": "center"}},
      "y": {"field": "d", "type": "quantitative", "scale": {"domain": [-5, 20], "nice": false, "zero": false},
        "axis": {"title": "Distance along rift axis (km)", "values": [-4, 0, 4, 8, 12, 16, 20], "labelExpr": "datum.value == 20 || datum.value == 0 || datum.value == -4 ? datum.label : ''", "tickSize": 10, "labelPadding": 4, "titleX": -64, "titleY": 137.5, "titleAngle": 270, "titleBaseline": "top", "titleAlign": "center"}},
      "size": {"field": "m", "type": "quantitative", "scale": {"type": "pow", "exponent": 2, "domain": [0, 4], "range": [0, 620]}, "legend": null}
     }},
    {"data": {"name": "cUp"}, "mark": {"type": "line", "color": "#2b4fae", "strokeWidth": 2.2},
     "encoding": {"x": {"field": "h", "type": "quantitative"}, "y": {"field": "d", "type": "quantitative"}}},
    {"data": {"name": "cLow"}, "mark": {"type": "line", "color": "#3cb44b", "strokeWidth": 2.2},
     "encoding": {"x": {"field": "h", "type": "quantitative"}, "y": {"field": "d", "type": "quantitative"}}},
    {"data": {"values": [{"h": 2.2, "d": 17.6, "s": "c)"}]}, "mark": {"type": "text", "fontSize": 26, "color": "#111", "align": "left", "baseline": "middle"},
     "encoding": {"x": {"field": "h", "type": "quantitative"}, "y": {"field": "d", "type": "quantitative"}, "text": {"field": "s"}}},
    {"data": {"values": [{"h": 54.5, "d": -1.3, "s": "Manda Hararo, 2008"}]}, "mark": {"type": "text", "fontSize": 20.5, "fontWeight": "bold", "color": "#2b74c0", "align": "right", "baseline": "middle"},
     "encoding": {"x": {"field": "h", "type": "quantitative"}, "y": {"field": "d", "type": "quantitative"}, "text": {"field": "s"}}}
   ]}
 ], "spacing": 105, "bounds": "flush", "center": true},
 {"vconcat": [
  {"width": 442, "height": 269,
   "view": {"stroke": "#333", "strokeWidth": 1.5},
   "layer": [
    {"data": {"values": [{"v": 1}, {"v": 0}, {"v": -2}, {"v": -4}]}, "mark": {"type": "rule", "color": "#b0b0b0", "strokeWidth": 1.5},
     "encoding": {"y": {"field": "v", "type": "quantitative"}}},
    {"data": {"name": "bPts"}, "mark": {"type": "point", "shape": "diamond", "filled": true, "size": 46, "color": "#111", "opacity": 1},
     "encoding": {
      "x": {"field": "t", "type": "quantitative", "scale": {"domain": [8.0, 9.5], "nice": false, "zero": false},
        "axis": {"title": "Day, March 1998", "values": [8, 8.5, 9, 9.5], "format": ".1f", "tickSize": 8, "labelPadding": 6, "titleX": 225, "titleY": 42.5, "titleBaseline": "top", "titleAlign": "center"}},
      "y": {"field": "e", "type": "quantitative", "scale": {"domain": [-4.78, 2.46], "nice": false, "zero": false},
        "axis": {"title": "Elevation (km; 0 is sea level)", "values": [2, 0, -2, -4], "labelExpr": "datum.value == -2 ? '' : datum.label", "tickSize": 7, "labelPadding": 8, "titleX": -58.5, "titleY": 141, "titleAngle": 270, "titleBaseline": "top", "titleAlign": "center"}}
     }},
    {"data": {"name": "bFit"}, "mark": {"type": "line", "color": "#9a9a9a", "strokeWidth": 1.3},
     "encoding": {"x": {"field": "t", "type": "quantitative"}, "y": {"field": "e", "type": "quantitative"}, "detail": {"field": "g"}}},
    {"data": {"name": "bLead"}, "mark": {"type": "line", "color": "#888", "strokeWidth": 1},
     "encoding": {"x": {"field": "t", "type": "quantitative"}, "y": {"field": "e", "type": "quantitative"}, "detail": {"field": "g"}}},
    {"data": {"name": "bUp"}, "mark": {"type": "line", "color": "#2b4fae", "strokeWidth": 2.2, "clip": true},
     "encoding": {"x": {"field": "t", "type": "quantitative"}, "y": {"field": "e", "type": "quantitative"}}},
    {"data": {"name": "bLow"}, "mark": {"type": "line", "color": "#3cb44b", "strokeWidth": 2.2},
     "encoding": {"x": {"field": "t", "type": "quantitative"}, "y": {"field": "e", "type": "quantitative"}}},
    {"data": {"values": [{"t": 8.667, "e": -3.76, "s": "1.59 m min⁻¹"}, {"t": 8.65, "e": -4.3, "s": "(0.095 km hour⁻¹)"}, {"t": 9.15, "e": -2.88, "s": "1.25 m min⁻¹"}, {"t": 9.143, "e": -3.28, "s": "(0.075 km hour⁻¹)"}]},
     "mark": {"type": "text", "fontSize": 10, "color": "#555", "align": "left", "baseline": "middle"},
     "encoding": {"x": {"field": "t", "type": "quantitative"}, "y": {"field": "e", "type": "quantitative"}, "text": {"field": "s"}}},
    {"data": {"values": [{"t": 8.037, "e": 1.79, "s": "b)"}]}, "mark": {"type": "text", "fontSize": 26, "color": "#111", "align": "left", "baseline": "middle"},
     "encoding": {"x": {"field": "t", "type": "quantitative"}, "y": {"field": "e", "type": "quantitative"}, "text": {"field": "s"}}},
    {"data": {"values": [{"t": 8.238, "e": 1.79, "s": "Piton de la Fournaise, 1998"}]}, "mark": {"type": "text", "fontSize": 20.5, "fontWeight": "bold", "color": "#2b74c0", "align": "left", "baseline": "middle"},
     "encoding": {"x": {"field": "t", "type": "quantitative"}, "y": {"field": "e", "type": "quantitative"}, "text": {"field": "s"}}}
   ]},
  {"width": 364, "height": 292,
   "view": {"stroke": "#2a2a2a", "strokeWidth": 2},
   "layer": [
    {"data": {"values": [{"v": -11.24}, {"v": -11.94}]}, "mark": {"type": "rule", "color": "#111", "strokeWidth": 2},
     "encoding": {"y": {"field": "v", "type": "quantitative"}}},
    {"data": {"name": "dErr"}, "mark": {"type": "rule", "color": "#333", "strokeWidth": 1.2},
     "encoding": {
      "x": {"field": "h", "type": "quantitative", "scale": {"domain": [9.75, 40.17], "nice": false, "zero": false},
        "axis": {"title": "Time (hours from start 17 June 2006 GMT)", "values": [12, 21.333, 30.667, 40], "labelExpr": "datum.value == 12 ? '12' : datum.value == 40 ? '40' : ''", "tickSize": 8, "labelPadding": 10, "titleX": 185, "titleY": 48.5, "titleBaseline": "top", "titleAlign": "center"}},
      "y": {"field": "lo", "type": "quantitative", "scale": {"domain": [-16.5, -8.0], "nice": false, "zero": false},
        "axis": {"title": "Distance along rift axis (km)", "values": [-9, -11, -13, -15], "labelExpr": "datum.value == -9 || datum.value == -15 ? datum.label : ''", "tickSize": 10, "labelPadding": 12, "titleX": -68.5, "titleY": 148.5, "titleAngle": 270, "titleBaseline": "top", "titleAlign": "center"}},
      "y2": {"field": "hi"}
     }},
    {"data": {"name": "dErr"}, "mark": {"type": "tick", "orient": "horizontal", "size": 5, "thickness": 1.2, "color": "#333", "opacity": 1},
     "encoding": {"x": {"field": "h", "type": "quantitative"}, "y": {"field": "lo", "type": "quantitative"}}},
    {"data": {"name": "dErr"}, "mark": {"type": "tick", "orient": "horizontal", "size": 5, "thickness": 1.2, "color": "#333", "opacity": 1},
     "encoding": {"x": {"field": "h", "type": "quantitative"}, "y": {"field": "hi", "type": "quantitative"}}},
    {"data": {"name": "dPts"}, "mark": {"type": "circle", "stroke": "#333", "strokeWidth": 1, "opacity": 1},
     "encoding": {
      "x": {"field": "h", "type": "quantitative"},
      "y": {"field": "d", "type": "quantitative"},
      "color": {"field": "g", "type": "nominal", "scale": {"domain": ["A", "B", "C", "D", "E", "F", "G"], "range": ["#e3242b", "#f0952a", "#f2e13a", "#1a9d5a", "#a8508a", "#5bbfc6", "#3a3a3a"]}, "legend": null},
      "size": {"field": "m", "type": "quantitative", "scale": {"type": "pow", "exponent": 2, "domain": [0, 4], "range": [0, 450]}, "legend": null}
     }},
    {"data": {"name": "dUp"}, "mark": {"type": "line", "color": "#2b4fae", "strokeWidth": 2.2},
     "encoding": {"x": {"field": "h", "type": "quantitative"}, "y": {"field": "d", "type": "quantitative"}, "order": {"field": "i"}}},
    {"data": {"name": "dLow"}, "mark": {"type": "line", "color": "#3cb44b", "strokeWidth": 2.6},
     "encoding": {"x": {"field": "h", "type": "quantitative"}, "y": {"field": "d", "type": "quantitative"}, "order": {"field": "i"}}},
    {"data": {"values": [{"h": 10.67, "d": -8.8, "s": "d)"}]}, "mark": {"type": "text", "fontSize": 26, "color": "#111", "align": "left", "baseline": "middle"},
     "encoding": {"x": {"field": "h", "type": "quantitative"}, "y": {"field": "d", "type": "quantitative"}, "text": {"field": "s"}}},
    {"data": {"values": [{"h": 25.67, "d": -14.8, "s": "Manda Hararo, 2006"}]}, "mark": {"type": "text", "fontSize": 20.5, "fontWeight": "bold", "color": "#2b74c0", "align": "center", "baseline": "middle"},
     "encoding": {"x": {"field": "h", "type": "quantitative"}, "y": {"field": "d", "type": "quantitative"}, "text": {"field": "s"}}}
   ]}
 ], "spacing": 111, "bounds": "flush", "center": true}
]
}
